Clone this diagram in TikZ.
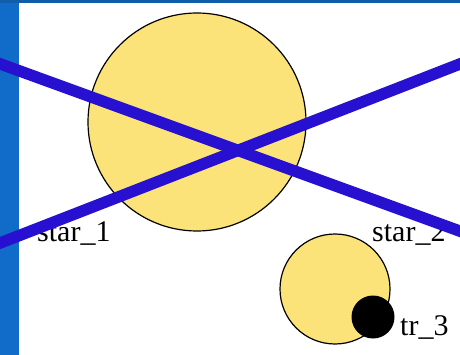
\documentclass[tikz,border=0pt]{standalone}
\usepackage{fontspec}
\setmainfont{Liberation Serif}
\usepackage{tikz}
\usetikzlibrary{positioning}
\definecolor{sunfill}{RGB}{251,227,122}
\definecolor{crossblue}{RGB}{40,16,208}
\definecolor{sideblue}{RGB}{16,108,200}
\definecolor{topblue}{RGB}{16,94,170}

\begin{document}
\begin{tikzpicture}[x=1pt, y=-1pt,
  every node/.style={font=\fontsize{30}{31}\selectfont},
  star/.style={circle, draw=black, line width=1.2pt, fill=sunfill, inner sep=0pt},
  transit/.style={circle, fill=black, inner sep=0pt},
  lbl/.style={anchor=base west, inner sep=0pt},
  cross/.style={line width=11.5pt, crossblue}
]
  \useasboundingbox (0,0) rectangle (460,355);
  \fill[white] (0,0) rectangle (460,355);
  \fill[sideblue] (0,0) rectangle (19,355);
  \fill[topblue] (0,0) rectangle (460,3);

  \node[star, minimum size=218pt] (s1) at (197,122) {};
  \node[star, minimum size=110pt] (s2) at (335,289) {};
  \node[transit, minimum size=43pt] (t3) at (373,317) {};

  \node[lbl] (l1) at (37,242) {star\_1};
  \node[lbl] (l2) at (372,242) {star\_2};
  \node[lbl] (l3) at (400,335) {tr\_3};

  \coordinate (nw) at (-5,62);
  \coordinate (se) at (465,233);
  \coordinate (sw) at (-5,245);
  \coordinate (ne) at (465,62);
  \draw[cross] (nw) -- (se);
  \draw[cross] (sw) -- (ne);
\end{tikzpicture}
\end{document}
